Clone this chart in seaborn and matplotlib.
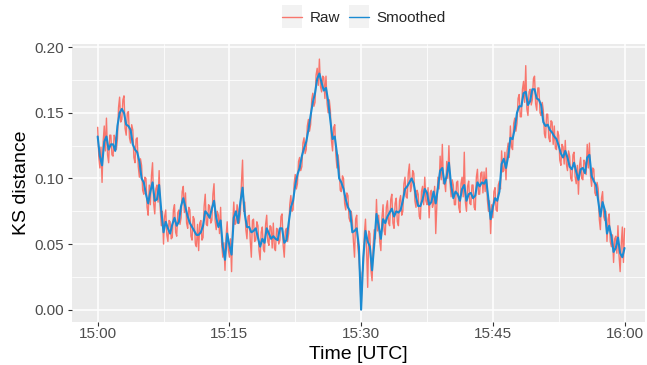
import numpy as np
import pandas as pd
import matplotlib
matplotlib.use("Agg")
import matplotlib.pyplot as plt
import matplotlib.dates as mdates
from matplotlib.patches import Rectangle
from matplotlib.lines import Line2D
import seaborn as sns

# minutes after 15:00 (0.25-min grid)
minutes = [i * 0.25 for i in range(241)]
# raw samples in between (0.125 min offset)
minutes_mid = [0.125 + i * 0.25 for i in range(240)]

smoothed = [
    .132, .117, .110, .128, .132, .122, .126, .126,
    .121, .140, .150, .153, .150, .141, .140, .137,
    .126, .122, .120, .113, .100, .097, .088, .081,
    .090, .097, .083, .084, .095, .075, .059, .067,
    .062, .058, .065, .070, .064, .067, .079, .085,
    .078, .071, .066, .063, .060, .057, .057, .059,
    .064, .075, .073, .070, .077, .083, .070, .063,
    .068, .048, .038, .058, .049, .042, .070, .075,
    .066, .082, .093, .073, .063, .063, .059, .060,
    .062, .055, .048, .054, .051, .062, .058, .054,
    .056, .054, .053, .062, .062, .051, .053, .066,
    .078, .083, .095, .103, .108, .117, .123, .128,
    .137, .148, .158, .165, .176, .180, .173, .167,
    .169, .159, .144, .130, .132, .119, .100, .097,
    .092, .084, .078, .075, .059, .060, .062, .048,
    .000, .040, .060, .052, .048, .030, .050, .073,
    .064, .054, .069, .066, .071, .074, .077, .071,
    .075, .074, .076, .083, .092, .094, .097, .100,
    .096, .086, .079, .079, .084, .092, .089, .080,
    .082, .090, .081, .093, .106, .108, .096, .102,
    .112, .095, .085, .090, .088, .083, .092, .095,
    .083, .088, .089, .085, .087, .097, .094, .097,
    .096, .099, .084, .069, .078, .085, .083, .090,
    .111, .115, .108, .117, .131, .130, .138, .150,
    .155, .155, .165, .166, .156, .159, .168, .168,
    .161, .160, .156, .143, .140, .141, .137, .135,
    .132, .130, .125, .119, .116, .121, .116, .109,
    .107, .112, .105, .099, .107, .108, .104, .116,
    .118, .102, .098, .095, .083, .071, .082, .076,
    .058, .064, .056, .044, .047, .055, .043, .040,
    .047,
]

raw = [
    .139, .108, .097, .140, .146, .112, .133, .117,
    .131, .130, .162, .145, .163, .133, .151, .127,
    .137, .112, .131, .101, .110, .088, .100, .072,
    .080, .112, .073, .095, .106, .064, .050, .076,
    .052, .067, .055, .080, .056, .076, .070, .094,
    .089, .062, .076, .053, .069, .048, .045, .068,
    .055, .088, .064, .079, .068, .096, .061, .072,
    .078, .040, .030, .067, .040, .029, .082, .066,
    .075, .073, .114, .082, .054, .072, .040, .069,
    .053, .064, .038, .063, .044, .072, .049, .063,
    .066, .045, .061, .053, .073, .040, .062, .058,
    .087, .076, .103, .096, .116, .109, .131, .122,
    .145, .141, .165, .158, .184, .191, .166, .177,
    .178, .150, .152, .121, .141, .108, .109, .090,
    .100, .076, .087, .067, .068, .040, .072, .040,
    .000, .032, .069, .017, .058, .022, .061, .084,
    .072, .045, .080, .057, .083, .064, .088, .062,
    .085, .064, .087, .075, .101, .085, .111, .094,
    .104, .078, .088, .069, .094, .101, .080, .070,
    .091, .081, .058, .101, .117, .126, .098, .113,
    .125, .086, .095, .080, .098, .074, .101, .120,
    .075, .098, .080, .095, .076, .107, .088, .105,
    .105, .108, .075, .058, .070, .093, .075, .098,
    .121, .106, .099, .127, .140, .122, .146, .142,
    .164, .147, .174, .186, .148, .168, .160, .178,
    .152, .169, .148, .152, .131, .149, .128, .143,
    .140, .122, .133, .110, .124, .129, .106, .117,
    .098, .120, .096, .088, .116, .099, .112, .126,
    .127, .094, .107, .087, .092, .061, .090, .068,
    .052, .073, .048, .036, .056, .064, .029, .063,
    .062,
]

raw_mid = [
    .117, .124, .128, .121, .118, .133, .118, .133,
    .122, .154, .143, .160, .138, .150, .131, .141,
    .116, .130, .109, .115, .091, .101, .078, .095,
    .102, .081, .092, .082, .077, .075, .071, .057,
    .068, .054, .076, .059, .074, .065, .090, .074,
    .066, .078, .056, .071, .050, .065, .066, .053,
    .079, .065, .080, .066, .088, .068, .075, .058,
    .050, .051, .056, .046, .054, .064, .065, .080,
    .066, .097, .075, .061, .071, .053, .068, .052,
    .067, .045, .059, .046, .065, .052, .064, .047,
    .047, .062, .050, .071, .049, .060, .052, .080,
    .075, .096, .092, .113, .106, .127, .119, .140,
    .136, .160, .155, .179, .171, .170, .178, .161,
    .157, .160, .129, .139, .118, .118, .091, .102,
    .081, .089, .070, .075, .052, .069, .048, .025,
    .028, .058, .045, .060, .030, .049, .054, .060,
    .052, .070, .060, .078, .066, .084, .066, .081,
    .067, .083, .072, .096, .086, .104, .090, .106,
    .083, .091, .071, .090, .080, .083, .093, .089,
    .078, .094, .079, .092, .099, .096, .090, .100,
    .097, .099, .080, .097, .078, .096, .086, .082,
    .094, .081, .095, .078, .101, .088, .104, .089,
    .090, .084, .083, .080, .090, .076, .095, .092,
    .105, .120, .121, .116, .124, .142, .136, .161,
    .147, .168, .158, .153, .166, .156, .176, .157,
    .169, .150, .158, .134, .149, .131, .144, .126,
    .123, .136, .114, .126, .111, .111, .121, .100,
    .118, .101, .110, .110, .100, .114, .103, .108,
    .102, .108, .089, .097, .069, .085, .071, .075,
    .069, .052, .057, .054, .043, .041, .050, .036,
]

series_names = ["Raw", "Smoothed"]
colors = {"Raw": "#F8766D", "Smoothed": "#1A8BD3"}
x_label = "Time [UTC]"
y_label = "KS distance"

start = pd.Timestamp("2020-01-01 15:00:00")
df_raw = pd.DataFrame({
    "time": start + pd.to_timedelta(list(minutes) + list(minutes_mid), unit="min"),
    "value": list(raw) + list(raw_mid),
    "series": "Raw",
}).sort_values("time")
df_sm = pd.DataFrame({"time": start + pd.to_timedelta(minutes, unit="min"),
                      "value": smoothed, "series": "Smoothed"})

sns.set_theme(style="darkgrid")
plt.rcParams["font.family"] = ["Liberation Sans", "DejaVu Sans"]

fig = plt.figure(figsize=(6.47, 3.65), dpi=100)
ax = fig.add_axes([71.5 / 647, 43 / 365, (645 - 71.5) / 647, (322 - 44) / 365])
ax.set_facecolor("#EBEBEB")

sns.lineplot(data=df_raw, x="time", y="value", color=colors["Raw"], lw=1.0, ax=ax,
             legend=False, estimator=None, sort=False)
sns.lineplot(data=df_sm, x="time", y="value", color=colors["Smoothed"], lw=1.5, ax=ax,
             legend=False, estimator=None)

x0 = mdates.date2num(start - pd.Timedelta(minutes=2.98))
x1 = mdates.date2num(start + pd.Timedelta(minutes=62.33))
ax.set_xlim(x0, x1)
ax.set_ylim(-0.0094, 0.2025)

major_x = [mdates.date2num(start + pd.Timedelta(minutes=m)) for m in (0, 15, 30, 45, 60)]
minor_x = [mdates.date2num(start + pd.Timedelta(minutes=m)) for m in (7.5, 22.5, 37.5, 52.5)]
ax.xaxis.set_major_locator(matplotlib.ticker.FixedLocator(major_x))
ax.xaxis.set_minor_locator(matplotlib.ticker.FixedLocator(minor_x))
ax.xaxis.set_major_formatter(mdates.DateFormatter("%H:%M"))
ax.set_yticks([0.0, 0.05, 0.10, 0.15, 0.20])
ax.set_yticks([0.025, 0.075, 0.125, 0.175], minor=True)
ax.yaxis.set_major_formatter(matplotlib.ticker.FormatStrFormatter("%.2f"))

ax.grid(which="major", color="white", lw=1.1)
ax.grid(which="minor", color="white", lw=0.55)
ax.set_axisbelow(True)
for s in ax.spines.values():
    s.set_visible(False)

ax.tick_params(axis="both", which="major", length=2.75, width=0.8, color="#333333",
               labelsize=11, labelcolor="#4D4D4D", bottom=True, left=True)
ax.tick_params(axis="x", which="major", pad=0.5)
ax.tick_params(axis="y", which="major", pad=3)
ax.tick_params(axis="both", which="minor", length=0)
ax.set_xlabel(x_label, fontsize=14, color="black", labelpad=4)
ax.set_ylabel(y_label, fontsize=14, color="black", labelpad=3)

handles = [Line2D([0], [0], color=colors[n], lw=1.0) for n in series_names]
leg = fig.legend(handles, series_names, loc="center", bbox_to_anchor=(364 / 647, 1 - 18 / 365),
                 ncol=2, frameon=False, fontsize=11, handlelength=1.3, handletextpad=0.5,
                 columnspacing=0.6)
fig.canvas.draw()
renderer = fig.canvas.get_renderer()
for ln in leg.get_lines():
    bb = ln.get_window_extent(renderer)
    cx = (bb.x0 + bb.x1) / 2
    cy = (bb.y0 + bb.y1) / 2
    w, h = 20, 23
    fig.patches.append(Rectangle(((cx - w / 2) / 647, (cy - h / 2) / 365), w / 647, h / 365,
                                 transform=fig.transFigure, facecolor="#F2F2F2",
                                 edgecolor="none", zorder=0))

fig.savefig("out.png", dpi=100)
